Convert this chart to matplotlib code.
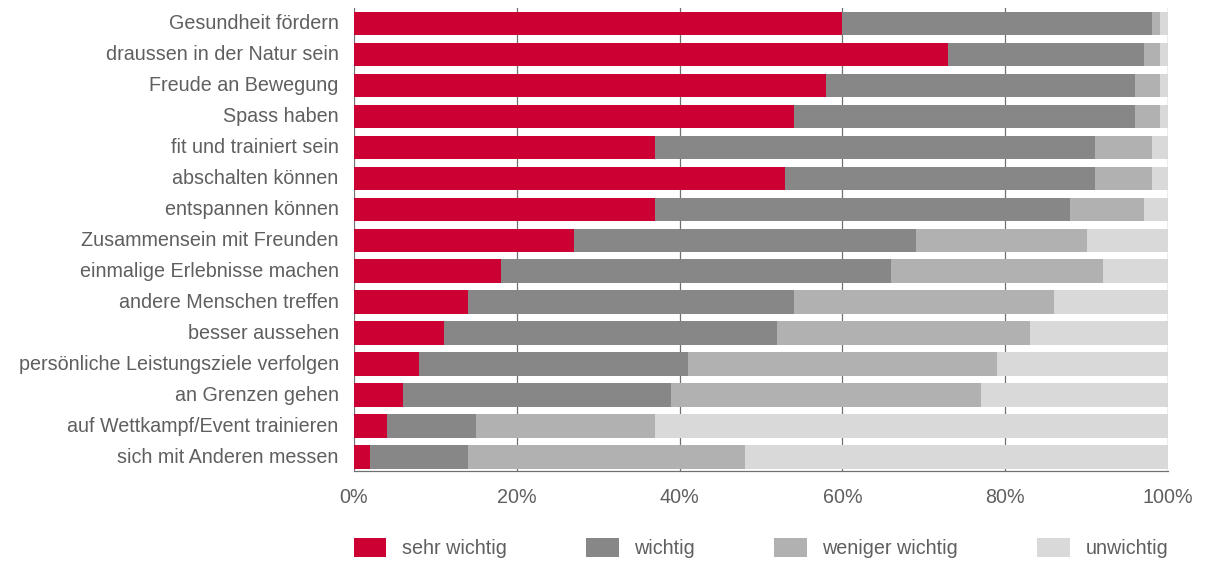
import matplotlib.pyplot as plt
import matplotlib.transforms as mtransforms
import numpy as np

# motive categories, top to bottom
categories = [
    "Gesundheit fördern",
    "draussen in der Natur sein",
    "Freude an Bewegung",
    "Spass haben",
    "fit und trainiert sein",
    "abschalten können",
    "entspannen können",
    "Zusammensein mit Freunden",
    "einmalige Erlebnisse machen",
    "andere Menschen treffen",
    "besser aussehen",
    "persönliche Leistungsziele verfolgen",
    "an Grenzen gehen",
    "auf Wettkampf/Event trainieren",
    "sich mit Anderen messen",
]

sehr_wichtig = [60, 73, 58, 54, 37, 53, 37, 27, 18, 14, 11, 8, 6, 4, 2]
wichtig = [38, 24, 38, 42, 54, 38, 51, 42, 48, 40, 41, 33, 33, 11, 12]
weniger_wichtig = [1, 2, 3, 3, 7, 7, 9, 21, 26, 32, 31, 38, 38, 22, 34]
unwichtig = [1, 1, 1, 1, 2, 2, 3, 10, 8, 14, 17, 21, 23, 63, 52]

series_names = ["sehr wichtig", "wichtig", "weniger wichtig", "unwichtig"]
colors = ["#CC0033", "#878787", "#B1B1B1", "#D9D9D9"]
text_color = "#5f5f5f"

plt.rcParams["font.family"] = ["Liberation Sans", "DejaVu Sans"]

fig = plt.figure(figsize=(12.07, 5.62), dpi=100)
ax = fig.add_axes([354 / 1207, 1 - 471 / 562, (1168 - 354) / 1207, (471 - 8) / 562])

y = np.arange(len(categories))
left = np.zeros(len(categories))
for name, vals, c in zip(
    series_names, [sehr_wichtig, wichtig, weniger_wichtig, unwichtig], colors
):
    vals = np.array(vals, dtype=float)
    ax.barh(y, vals, left=left, height=0.76, color=c, label=name, zorder=2)
    left += vals

ax.set_xlim(0, 100)
ax.set_ylim(len(categories) - 0.55, -0.5)
ax.set_yticks(y)
ax.set_yticklabels(categories, fontsize=14.2, color=text_color)
ax.set_xticks(np.arange(0, 101, 20))
ax.set_xticklabels([f"{v}%" for v in range(0, 101, 20)], fontsize=14.2, color=text_color)
ax.tick_params(axis="y", length=0, pad=11)
ax.tick_params(axis="x", length=0, pad=12)
ax.xaxis.grid(True, color="#707070", linewidth=0.9, zorder=0)
ax.set_axisbelow(True)
for side in ["top", "right", "left"]:
    ax.spines[side].set_visible(False)
ax.spines["bottom"].set_color("#707070")
ax.spines["bottom"].set_linewidth(0.9)

# nudge category labels up a touch to sit centred on the bars
shift = mtransforms.ScaledTranslation(0, 2 / 100, fig.dpi_scale_trans)
for lbl in ax.get_yticklabels():
    lbl.set_transform(lbl.get_transform() + shift)

fig.legend(
    loc="lower left",
    bbox_to_anchor=(346 / 1207, -4 / 562, (1176 - 346) / 1207, 0.06),
    mode="expand",
    ncol=4,
    frameon=False,
    fontsize=14.2,
    labelcolor=text_color,
    handlelength=1.65,
    handleheight=1.1,
    handletextpad=0.8,
    borderaxespad=0.0,
)

fig.savefig("out.png", dpi=100)
